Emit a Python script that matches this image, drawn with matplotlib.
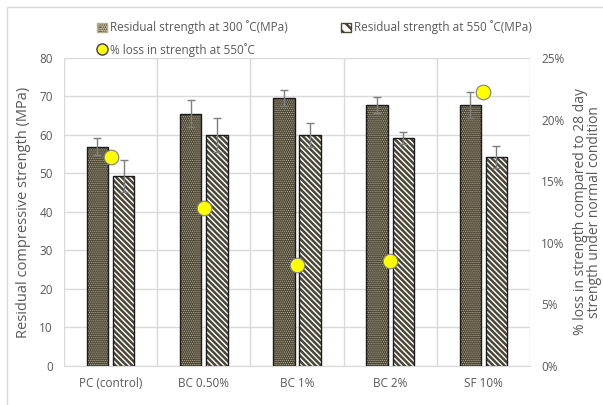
import matplotlib
matplotlib.use("Agg")
import matplotlib.pyplot as plt
import numpy as np
from matplotlib.patches import Rectangle
from matplotlib.lines import Line2D

plt.rcParams['font.family'] = ['Open Sans', 'DejaVu Sans']
plt.rcParams['hatch.linewidth'] = 1.8

categories = ["PC (control)", "BC 0.50%", "BC 1%", "BC 2%", "SF 10%"]
strength_300 = [57.0, 65.5, 69.6, 67.8, 67.8]
err_300 = [2.1, 3.5, 2.1, 2.1, 3.4]
strength_550 = [49.4, 60.0, 60.0, 59.2, 54.3]
err_550 = [4.1, 4.4, 3.0, 1.6, 2.8]
loss_550 = [17.0, 12.8, 8.2, 8.5, 22.2]

dark = "#4b4636"
dot_c = "#b5ad90"
grey_txt = "#595959"
grid_c = "#d9d9d9"
dots = "." * 8
stripes = "\\" * 6

fig = plt.figure(figsize=(6.03, 4.05), dpi=100)
ax = fig.add_axes([0.106, 0.0963, 0.773, 0.7605])
ax2 = ax.twinx()

x = np.arange(len(categories))
w = 0.23
off = 0.14

# 300 °C bars: dark fill with light dot pattern
with plt.rc_context({'hatch.linewidth': 0.6}):
    ax.bar(x - off, strength_300, w, color=dark, edgecolor=dot_c, hatch=dots, linewidth=0, zorder=2)
ax.bar(x - off, strength_300, w, fill=False, edgecolor="#1a1a1a", linewidth=1.0, zorder=3)
# 550 °C bars: white fill with dark diagonal stripes
ax.bar(x + off, strength_550, w, color="white", edgecolor=dark, hatch=stripes, linewidth=0, zorder=2)
ax.bar(x + off, strength_550, w, fill=False, edgecolor="#1a1a1a", linewidth=1.0, zorder=3)

ax.errorbar(x - off, strength_300, yerr=err_300, fmt="none", ecolor="#7f7f7f", elinewidth=1.0, capsize=3, zorder=4)
ax.errorbar(x + off, strength_550, yerr=err_550, fmt="none", ecolor="#7f7f7f", elinewidth=1.0, capsize=3, zorder=4)

ax2.plot(x, loss_550, linestyle="none", marker="o", markersize=10.5, markerfacecolor="#ffff00",
         markeredgecolor="#7f7f7f", markeredgewidth=0.8, zorder=5)

ax.set_xlim(-0.5, len(categories) - 0.5)
ax.set_ylim(0, 80)
ax.set_yticks(np.arange(0, 81, 10))
ax2.set_ylim(0, 25)
ax2.set_yticks(np.arange(0, 26, 5))
ax2.set_yticklabels([f"{v}%" for v in range(0, 26, 5)])

ax.set_xticks(x)
ax.set_xticklabels(categories)
ax.set_xticks(np.arange(-0.5, len(categories)), minor=True)
ax.grid(True, axis="y", color=grid_c, linewidth=1.0, zorder=0)
ax.grid(True, axis="x", which="minor", color=grid_c, linewidth=1.0, zorder=0)
ax.set_axisbelow(True)
ax.tick_params(axis="x", which="both", length=0, colors=grey_txt, labelsize=8.5, pad=8)
ax.tick_params(axis="y", length=0, colors=grey_txt, labelsize=8.5, pad=8)
ax2.tick_params(axis="y", length=0, colors=grey_txt, labelsize=8.5, pad=8)

for a in (ax, ax2):
    for s in a.spines.values():
        s.set_visible(False)
ax.spines["bottom"].set_visible(True)
ax.spines["bottom"].set_color(grid_c)

ax.set_ylabel("Residual compressive strength (MPa)", color=grey_txt, fontsize=10.5, labelpad=6)
ax2.set_ylabel("% loss in strength compared to 28 day\nstrength under normal condition",
               color=grey_txt, fontsize=10, labelpad=6, linespacing=0.95)

with plt.rc_context({'hatch.linewidth': 0.6}):
    h300 = Rectangle((0, 0), 1, 1, facecolor=dark, edgecolor=dot_c, hatch=dots)
handles = [
    h300,
    Line2D([], [], linestyle="none", marker="o", markersize=8, markerfacecolor="#ffff00",
           markeredgecolor="#404040"),
    Rectangle((0, 0), 1, 1, facecolor="white", edgecolor=dark, hatch="\\\\\\"),
]
labels = ["Residual strength at 300 ˚C(MPa)", "% loss in strength at 550˚C",
          "Residual strength at 550 ˚C(MPa)"]
leg = fig.legend(handles, labels, ncol=2, loc="center", bbox_to_anchor=(0.522, 0.905),
                 frameon=False, fontsize=8.5, handlelength=0.8, handleheight=0.8,
                 handletextpad=0.3, columnspacing=4.5, labelspacing=0.7, labelcolor=grey_txt)

fig.patches.append(Rectangle((0.012, -0.01), 1.0, 0.993, transform=fig.transFigure,
                             fill=False, edgecolor="#d9d9d9", linewidth=1.0))

fig.savefig("out.png", dpi=100)
